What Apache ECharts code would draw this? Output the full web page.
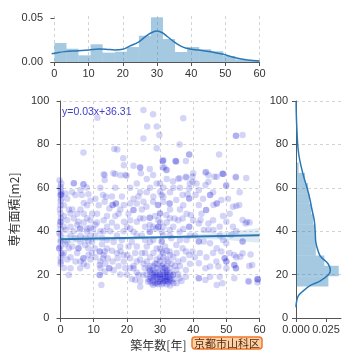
<!DOCTYPE html>
<html><head><meta charset="utf-8">
<script src="https://cdn.jsdelivr.net/npm/echarts@6/dist/echarts.min.js"></script>
<style>html,body{margin:0;padding:0;background:#fff}#c{width:360px;height:360px}</style>
</head><body><div id="c"></div>
<script>
// ---- data ----
const xTickValues = [0, 10, 20, 30, 40, 50, 60];
const yTickValues = [0, 20, 40, 60, 80, 100];
const topTickValues = [0, 0.05];
const rightTickValues = [0, 0.025];

// marginal histogram of building age (density), 17 bins
const ageBinEdges = [0, 3.53, 7.06, 10.59, 14.12, 17.65, 21.18, 24.71, 28.24, 31.76, 35.29, 38.82, 42.35, 45.88, 49.41, 52.94, 56.47, 60];
const ageDensity = [0.0216, 0.0151, 0.0076, 0.0201, 0.0106, 0.0117, 0.017, 0.0299, 0.0508, 0.0261, 0.0114, 0.017, 0.0144, 0.0122, 0.0068, 0.003, 0.0015];
// KDE of building age
const ageKdeX = [-0.8, 0, 3, 7, 10, 13, 15, 17.6, 20, 22, 24.7, 27, 28.5, 30, 31.7, 33, 35, 37, 38.7, 40, 42.2, 45.8, 49.4, 52.9, 56.5, 60];
const ageKdeY = [0.0095, 0.0099, 0.0118, 0.0128, 0.0136, 0.0147, 0.0146, 0.0136, 0.0145, 0.018, 0.023, 0.030, 0.0335, 0.0352, 0.033, 0.029, 0.023, 0.018, 0.0156, 0.0145, 0.0136, 0.0117, 0.0087, 0.0049, 0.0023, 0.0011];

// marginal histogram of floor area (density), 17 bins
const areaBinEdges = [14.5, 19.26, 24.03, 28.79, 33.56, 38.32, 43.09, 47.85, 52.62, 57.38, 62.15, 66.91, 71.68, 76.44, 81.21, 85.97, 90.74, 95.5];
const areaDensity = [0.027, 0.0356, 0.0236, 0.0165, 0.0165, 0.0158, 0.0142, 0.0127, 0.0112, 0.010, 0.0075, 0.0022, 0.0008, 0.0006, 0.0006, 0.0003, 0.0005];
// KDE of floor area
const areaKdeY = [5, 7, 10, 12, 15, 17, 20, 22, 25, 28, 30, 35, 40, 45, 50, 55, 60, 65, 70, 75, 80, 85, 90, 95, 100];
const areaKdeD = [0, 0.0003, 0.0017, 0.005, 0.012, 0.020, 0.0272, 0.0286, 0.0267, 0.021, 0.019, 0.0165, 0.016, 0.0152, 0.0133, 0.0115, 0.0092, 0.0065, 0.0042, 0.0024, 0.0014, 0.0009, 0.0005, 0.0002, 0.0001];

// regression line and its confidence band
const regX = [0, 60];
const regY = [36.31, 38.11];
const bandX = [0, 10, 20, 30, 40, 50, 60];
const bandLow = [34.3, 35.4, 36.0, 36.5, 36.6, 35.9, 34.7];
const bandHigh = [38.4, 37.6, 37.3, 37.6, 38.3, 39.6, 41.5];

// scatter: [age, area]
const points = [
[-0.3,63.5],[0.2,62],[0,60.5],[0,59.5],[0.1,58],[0,56.7],[0,56.7],[0.2,55],[0,52],[-0.2,50],[0,48.2],[0.1,46],[0,44.4],[0,44.4],[-0.2,43],[0,41],[-0.4,39],[0,38.2],[0.1,36],[0,35.2],[0,33],[-0.4,32.1],[-0.4,32.1],[0.2,30],[0.6,29],[0,27.5],[0.1,26],[0,25],[0.3,57],[0,54],
[1.5,57.4],[1.5,40.5],[3,48.2],[4,45.9],[2.5,32.1],[3,22.9],[2.5,19.8],[4.5,36.7],[4.5,26],[4,62.1],[4,62.1],[1,52],[2,45],[3,38],[1,30],[2,35],[4.5,56.7],[3.5,50],[5,43],[2,27],[1,23],[3,42],[5,30],
[1,47],[2,55],[3.5,58],[1.5,34],[3,28],[4,40],[2.5,50],[1,42],[5,48],[3.5,33],
[6.9,76.3],[6.9,61.6],[6.9,61.6],[7.9,60.1],[8.4,57],[6.4,56.7],[6,50],[5.4,44.4],[5.9,41.3],[5.9,41.3],[7.9,41.3],[8.9,41.6],[9.8,41],[5.4,32.1],[5.4,32.1],[8.4,35.2],[8.4,32.1],[7.4,33.6],[6.9,27.5],[6.9,27.5],[8.4,29],[5.9,22.9],[6,26],[7,48],[8,46],[9,45],[6,38],[9,38],[7,25],[9.5,30],[6,59],[8,52],[9,54],[6,35],
[7,44],[8,40],[9.5,48],[7.5,37],[9,27],[8,24],[7,53],[9.5,35],
[11.1,92.3],[13.3,65.9],[13.3,63.6],[13,66.2],[12.8,56.7],[13.7,55.9],[13.3,53.6],[14.7,50.5],[10.3,32.1],[11.8,30.6],[11.8,30.6],[13.3,30.6],[12.8,27.5],[14.2,27.5],[11.8,24.4],[11.8,19.8],[11.8,19.8],[14.7,22.9],[14.7,22.9],[13.3,21.4],[12.3,15.2],[13,29],[12,26],[14,32],[10.5,38],[12,40],[13,45],[11,48],[14,42],[12.5,34],[13.5,25],[10.5,55],[12,60],[14,36],[11,44],
[10.5,28],[12.5,37],[14,47],[11.5,52],[13,40],[10.5,43],[12,23],
[16.2,77.9],[17.1,77.7],[18.9,73.6],[19.1,70.4],[15.9,66.7],[16.5,66.4],[18.1,65.8],[19.6,65.9],[19.9,65.6],[15.7,52.1],[15.7,52.1],[16.7,52.8],[16.7,52.8],[19.1,52.1],[19.1,44.4],[15.7,26],[17.2,27.5],[18.1,30.6],[19.1,26],[16,35],[17,38],[18,33],[15.5,44],[17.5,48],[19,40],[16,22],[18,20],[19.5,23],[17,30],[15,40],[18.5,56],[16.5,60],
[15.5,31],[17,42],[18.5,36],[16.5,47],[19,29],[17.5,24],[18,50],[15.5,56],
[22,70.2],[24,69.4],[24,69.4],[24.2,66.7],[21,52.8],[23,52.8],[22,49.8],[22,49.8],[25,53.6],[21,41.3],[22,39.8],[23,44.4],[20.1,29],[21,27.5],[23,26],[22,22.9],[23.5,19.8],[24.9,19.8],[25.4,22.9],[22.5,17.5],[24,14.4],[25,95.9],[25,82.7],[21,60],[23,62],[24,58],[20.5,48],[24,46],[21.5,35],[23,33],[24.5,30],[20,20],[21.5,18],[23,21],[24,17],[25,25],[22,24],[24.5,38],[21,45],[23.5,56],
[20.5,33],[22.5,30],[24,27],[21,23],[23,38],[22,55],[20,42],[24.5,50],
[26.1,88.2],[27.9,93.9],[29,88.2],[29.8,84.3],[29,78.2],[26.9,68.7],[27.9,65.9],[25.9,51.3],[27.9,53.6],[29.3,52.1],[25,45.9],[26.9,46.2],[26.9,46.2],[26.9,42.9],[27.9,42.1],[26.9,39.8],[26.9,39.8],[28.8,41.3],[26.9,21.4],[27.4,18.3],[28.4,19],[26.4,16.7],[27.9,15.2],[29.3,16.7],
[26,20],[26.5,23],[27,24],[27,17],[27.5,21],[28,22],[28,17],[28.5,25],[28.5,16],[29,20],[29,23],[29,18],[29.5,15.5],[29.5,21],[26,26],[27,28],[28,30],[29,27],[25.5,30],[26,33],[27,35],[28,36],[29,32],[25.5,36],[28,56],[26,58],[27,60],[29,62],[26,64],[28.5,47],[29.5,45],[25.5,42],
[28,19],[28,20],[27,19],[29,16],[28.5,21],[27.5,16],[26.5,18],[28,24],[29,25],[27,22],
[30.8,72.3],[30.8,72.3],[31.3,69.4],[32,68.2],[31,72.8],[30.8,69.3],[31.9,68.2],[33.9,63],[34.7,72.3],[34.7,72.3],[34.9,72],[30,58.2],[30.5,56.7],[29.5,52.1],[31,53.6],[32.9,52.8],[32.9,52.8],[34.9,54.4],[30,48.2],[30,48.2],[31.9,47.5],[34.4,45.9],[29.5,42.1],[29.5,42.1],[30.5,39.8],[32.9,40.5],[30.5,35.2],[30.5,35.2],[33.4,36.7],[34.9,33.6],[32.9,30.6],[30.5,30.6],[34.9,22.1],[33.9,19.8],[32.9,17.5],[31,18.3],[31.5,21.4],[30,22.9],[30,16.7],[29,19],
[30,20],[30,20],[30.5,18],[30.5,15.5],[31,16],[31,20],[31,23],[31,25],[31.5,17],[31.5,19],[32,15.5],[32,18],[32,20],[32,22],[32,24],[32.5,16.5],[32.5,19],[33,15],[33,21],[33,23],[33.5,17],[33.5,25],[34,16],[34,18],[34,20],[34.5,24],[30,26],[31,28],[32,27],[33,29],[30,32],[31.5,33],[34,28],[30,44],[31,42],[32,44],[33,46],[31,38],[33,38],[34,42],[30,62],[31,60],[32,64],[33,58],[34,60],[31,56],[33,50],
[30,18],[30,19],[31,17],[31,21],[32,17],[32,19],[32,21],[33,18],[33,20],[31.5,23],[30.5,24],[32.5,26],[30,28],[31,30],[32,31],
[35.9,80],[37,92],[38.8,75.4],[38.8,75.4],[37.8,72.3],[35.9,64.4],[37.8,65.1],[39.8,65.1],[37.9,64.8],[35.5,64.2],[38.8,59.7],[36.8,56.7],[38.3,57],[38.8,55.1],[38.8,55.1],[36.8,45.9],[39.3,47.5],[35.9,39.8],[38.8,42.1],[38.8,42.1],[37.8,22.1],[37.8,19],[35.9,18.3],[38.8,29],[39.8,30.6],[36.8,32.1],[37.8,30.6],[35.5,26],[36,24],[37,27],[39,25],[36,36],[38,36],[39,38],[36,50],[37,52],[38,48],[35.5,45],[36,60],[39,62],[35,30],[37,41],[35.5,20],[36.5,17],[35,16],
[40,66.7],[39.8,62.8],[41.7,59],[40.7,56.7],[43.7,67.1],[44.6,65.9],[43.9,67.3],[44.6,62.8],[43.7,61.3],[45.1,56.7],[45.1,56.7],[41.7,52.1],[43.9,49.8],[43.9,49.8],[42.2,45.2],[44.6,43.6],[41.7,43.6],[43.2,40.5],[44.6,40.5],[41.7,35.2],[41.7,35.2],[43.2,35.2],[45.1,34.4],[43.7,22.9],[41.7,25.2],[41.7,18.3],[41.7,18.3],[43.7,17.5],[45.1,19],[45.1,23.7],[40.5,28],[42,30],[44,28],[40.5,38],[42.5,48],[40,45],[43,55],[41,62],
[47.8,75.4],[46.4,65.1],[47.1,65.1],[49,66.5],[49,66.5],[48.8,66.4],[49.9,60.8],[46.1,52.1],[47.1,52.8],[47.1,52.8],[48.5,54.4],[46.1,40.5],[47.1,32.1],[48.5,30.6],[49.5,27.5],[49.5,27.5],[47.6,23.7],[47.1,15.2],[48,19],[46,45],[48,42],[49,36],[46,30],[47,26],[49,47],[46,58],[48,38],[48.8,16],
[52.9,84],[52.9,84],[54.9,84.3],[52.9,65.1],[52.8,64.8],[50,61.3],[52,51.3],[53.9,52.1],[50,44.4],[54.9,45.2],[52,42.1],[51.5,38.3],[50,34.4],[54.9,35.2],[54.9,35.2],[52.4,29],[54.9,29.8],[52.4,24.4],[52.4,24.4],[50,26],[50,26],[52.9,22.9],[52.9,22.9],[50,22.9],[52.4,18.3],[51,30],[53,28],[51,48],[53,40],[50.5,55],[54,58],[53,51.6],[54.2,28.2],
[55.8,43.6],[57.3,29.3],[57.8,24.4],[56.8,16.7],[59.4,17.9],[59.4,17.9],[59.4,16.4],[56.2,44.2],[57,44],[56,64.5],[56.9,24],[56.6,17],[59.5,17.8]
];

// ---- chart ----
const FONT = 'Liberation Sans, Arial, sans-serif';
const CJK = 'Noto Sans CJK JP, sans-serif';
const HIST = 'rgba(31,119,180,0.4)';
const LINE = '#2b78b5';
const GRIDLINE = {show: true, lineStyle: {color: '#c8c8c8', type: [3, 3], width: 0.8}};
const AXLINE = {show: true, lineStyle: {color: '#555', width: 1}};
const TICK = {show: true, length: 4, lineStyle: {color: '#555'}};
const LAB = {color: '#333', fontSize: 11, fontFamily: FONT};

const chart = echarts.init(document.getElementById('c'), null, {renderer: 'canvas'});

const ageHistData = ageDensity.map((d, i) => [ageBinEdges[i], ageBinEdges[i + 1], d]);
const areaHistData = areaDensity.map((d, i) => [areaBinEdges[i], areaBinEdges[i + 1], d]);
const bandData = bandX.map((x, i) => [x, bandLow[i], bandHigh[i]]);

chart.setOption({
  animation: false,
  backgroundColor: '#fff',
  title: {
    text: '京都市山科区', left: 192, top: 337,
    backgroundColor: '#fcd3a6', borderColor: '#f2772a', borderWidth: 1.5, borderRadius: 3,
    padding: [1, 2, 0, 2],
    textStyle: {fontSize: 11, fontWeight: 'normal', color: '#5a2a10', fontFamily: CJK}
  },
  graphic: [{
    type: 'text', left: 62, top: 107,
    style: {text: 'y=0.03x+36.31', fill: '#4040c8', font: '10.5px ' + FONT}
  }],
  grid: [
    {left: 51, top: 16, width: 208.5, height: 46},
    {left: 51, top: 101, width: 208.5, height: 217},
    {left: 296, top: 101, width: 45, height: 217}
  ],
  xAxis: [
    {gridIndex: 0, type: 'value', min: -1, max: 60,
     axisLine: AXLINE, axisTick: Object.assign({customValues: xTickValues}, TICK),
     axisLabel: Object.assign({customValues: xTickValues, margin: 6}, LAB),
     splitLine: GRIDLINE},
    {gridIndex: 1, type: 'value', min: -1, max: 60,
     name: '築年数[年]', nameLocation: 'middle', nameGap: 21,
     nameTextStyle: {color: '#333', fontSize: 12, fontFamily: CJK},
     axisLine: AXLINE, axisTick: Object.assign({customValues: xTickValues}, TICK),
     axisLabel: Object.assign({customValues: xTickValues, margin: 6}, LAB),
     splitLine: GRIDLINE},
    {gridIndex: 2, type: 'value', min: 0, max: 0.0375,
     axisLine: AXLINE, axisTick: Object.assign({customValues: rightTickValues}, TICK),
     axisLabel: Object.assign({customValues: rightTickValues, margin: 6, formatter: v => v.toFixed(3)}, LAB),
     splitLine: {show: false}}
  ],
  yAxis: [
    {gridIndex: 0, type: 'value', min: 0, max: 0.0523,
     axisLine: {show: false}, axisTick: Object.assign({customValues: topTickValues}, TICK),
     axisLabel: Object.assign({customValues: topTickValues, formatter: v => v.toFixed(2)}, LAB),
     splitLine: {show: false}},
    {gridIndex: 1, type: 'value', min: 0, max: 100,
     name: '専有面積[m2]', nameLocation: 'middle', nameGap: 29, nameRotate: 90,
     nameTextStyle: {color: '#333', fontSize: 12, fontFamily: CJK},
     axisLine: AXLINE, axisTick: Object.assign({customValues: yTickValues}, TICK),
     axisLabel: Object.assign({customValues: yTickValues}, LAB),
     splitLine: GRIDLINE},
    {gridIndex: 2, type: 'value', min: 0, max: 100,
     axisLine: AXLINE, axisTick: Object.assign({customValues: yTickValues}, TICK),
     axisLabel: Object.assign({customValues: yTickValues}, LAB),
     splitLine: GRIDLINE}
  ],
  series: [
    {type: 'custom', xAxisIndex: 0, yAxisIndex: 0, data: ageHistData, encode: {x: [0, 1], y: 2},
     renderItem: (params, api) => {
       const a = api.coord([api.value(0), 0]);
       const b = api.coord([api.value(1), api.value(2)]);
       return {type: 'rect', shape: {x: a[0], y: b[1], width: b[0] - a[0], height: a[1] - b[1]}, style: {fill: HIST}};
     }},
    {type: 'line', xAxisIndex: 0, yAxisIndex: 0, data: ageKdeX.map((x, i) => [x, ageKdeY[i]]),
     smooth: 0.4, showSymbol: false, lineStyle: {color: LINE, width: 1.5}},
    {type: 'scatter', xAxisIndex: 1, yAxisIndex: 1, data: points, symbolSize: 6.5,
     itemStyle: {color: 'rgba(0,0,205,0.21)'}},
    {type: 'custom', xAxisIndex: 1, yAxisIndex: 1, data: bandData, encode: {x: 0, y: [1, 2]}, z: 3,
     renderItem: (params, api) => {
       const i = params.dataIndex;
       if (i >= bandData.length - 1) return null;
       const p1 = api.coord([api.value(0), api.value(1)]);
       const p2 = api.coord([api.value(0), api.value(2)]);
       const n = bandData[i + 1];
       const p3 = api.coord([n[0], n[2]]);
       const p4 = api.coord([n[0], n[1]]);
       return {type: 'polygon', shape: {points: [p1, p2, p3, p4]}, style: {fill: 'rgba(31,119,180,0.15)'}};
     }},
    {type: 'line', xAxisIndex: 1, yAxisIndex: 1, data: regX.map((x, i) => [x, regY[i]]), z: 4,
     showSymbol: false, lineStyle: {color: LINE, width: 2}},
    {type: 'custom', xAxisIndex: 2, yAxisIndex: 2, data: areaHistData, encode: {x: 2, y: [0, 1]},
     renderItem: (params, api) => {
       const a = api.coord([0, api.value(0)]);
       const b = api.coord([api.value(2), api.value(1)]);
       return {type: 'rect', shape: {x: a[0], y: b[1], width: b[0] - a[0], height: a[1] - b[1]}, style: {fill: HIST}};
     }},
    {type: 'line', xAxisIndex: 2, yAxisIndex: 2, data: areaKdeY.map((y, i) => [areaKdeD[i], y]),
     smooth: 0.4, showSymbol: false, lineStyle: {color: LINE, width: 1.5}}
  ]
});
</script></body></html>
